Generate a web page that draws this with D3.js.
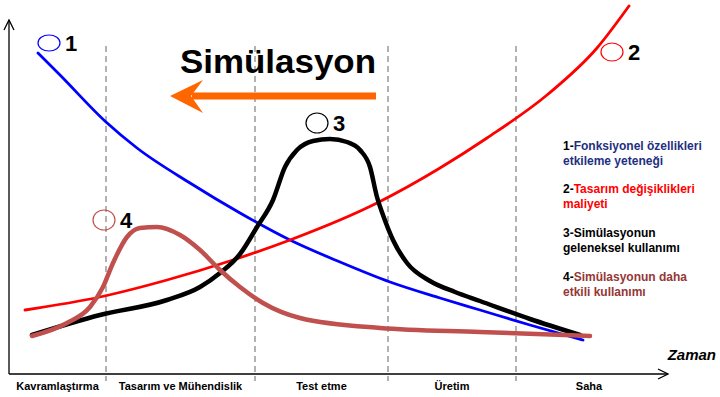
<!DOCTYPE html>
<html lang="tr">
<head>
    <meta charset="UTF-8">
    <title>Simülasyon</title>
    <script src="https://d3js.org/d3.v7.min.js"></script>
    <style>
        body { margin: 0; background: #fff; }
        text { font-family: "Liberation Sans", Arial, sans-serif; font-weight: bold; }
        .phase-line { stroke: #999; stroke-width: 1.5px; stroke-dasharray: 6, 4; }
        .axis-line { stroke: #000; stroke-width: 1.3px; fill: none; }
    </style>
</head>
<body>
<div id="chart"></div>
<script>
    // phases along the time axis (boundaries in time units)
    const phases = ["Kavramlaştırma", "Tasarım ve Mühendislik", "Test etme", "Üretim", "Saha"];
    const phaseBounds = [0, 97, 246, 379, 507, 653];

    // 1 - ability to influence functional properties
    const blueX = [29, 51, 97, 128, 181, 231, 281, 331, 381, 431, 471, 521, 574];
    const blueY = [322, 300, 253, 227, 192, 162, 135, 113, 93, 77, 65, 50, 35];
    // 2 - cost of design changes
    const redX = [16, 91, 158, 224, 281, 368, 431, 478, 538, 588, 620];
    const redY = [65, 78, 95, 115, 135, 172, 207, 237, 280, 327, 369];
    // 3 - traditional use of simulation
    const blackX = [23, 91, 158, 191, 211, 231, 248, 264, 276, 288, 304, 321, 338, 351, 361, 368, 374, 384, 398, 421, 446, 471, 521, 571];
    const blackY = [40, 60, 75, 88, 102, 121, 148, 175, 208, 225, 234, 236, 233, 225, 208, 178, 160, 135, 112, 94, 83, 74, 56, 40];
    // 4 - more effective use of simulation
    const brownX = [23, 58, 81, 94, 104, 118, 131, 148, 171, 191, 211, 231, 254, 291, 371, 471, 581];
    const brownY = [39, 52, 68, 88, 112, 138, 147, 148, 140, 125, 105, 88, 72, 57, 47, 43, 39];

    const markerLabels = ["1", "2", "3", "4"];
    const markerX = [40, 603, 308, 95];
    const markerY = [332, 323, 252, 155];

    const legendNums = ["1-", "2-", "3-", "4-"];
    const legendLines = [
        ["Fonksiyonel özellikleri", "etkileme yeteneği"],
        ["Tasarım değişiklikleri", "maliyeti"],
        ["Simülasyonun", "geleneksel kullanımı"],
        ["Simülasyonun daha", "etkili kullanımı"]
    ];

    const colors = ["#0000ff", "#ff0000", "#000000", "#c0504d"];
    const widths = [2.8, 2.8, 4.5, 4.5];
    const textColors = ["#1f3080", "#ff0000", "#000000", "#953735"];

    const W = 720, H = 397;
    const x0 = 9, yAxis = 374;

    const svg = d3.select("#chart").append("svg")
        .attr("width", W).attr("height", H);

    const x = d3.scaleLinear().domain([0, 660]).range([x0, x0 + 660]);
    const y = d3.scaleLinear().domain([0, 355]).range([yAxis + 1, 20]);

    // phase separators
    svg.selectAll(".phase-line")
        .data(phaseBounds.slice(1, -1))
        .enter().append("line")
        .attr("class", "phase-line")
        .attr("x1", d => x(d)).attr("x2", d => x(d))
        .attr("y1", 46).attr("y2", 381);

    // axes
    svg.append("line").attr("class", "axis-line")
        .attr("x1", x0).attr("x2", 668).attr("y1", yAxis).attr("y2", yAxis);
    svg.append("path").attr("class", "axis-line")
        .attr("d", `M658,${yAxis - 5}L668,${yAxis}L658,${yAxis + 5}`);
    svg.append("line").attr("class", "axis-line")
        .attr("x1", x0).attr("x2", x0).attr("y1", yAxis).attr("y2", 20);
    svg.append("path").attr("class", "axis-line")
        .attr("d", `M${x0 - 5},30L${x0},20L${x0 + 5},30`);

    // phase labels
    svg.selectAll(".phase-label")
        .data(phases)
        .enter().append("text")
        .attr("class", "phase-label")
        .attr("x", (d, i) => x((phaseBounds[i] + phaseBounds[i + 1]) / 2))
        .attr("y", 390)
        .attr("text-anchor", "middle")
        .style("font-size", "11px")
        .text(d => d);

    svg.append("text")
        .attr("x", 716).attr("y", 360)
        .attr("text-anchor", "end")
        .style("font-size", "15px")
        .style("font-style", "italic")
        .text("Zaman");

    // curves
    const series = [[blueX, blueY], [redX, redY], [blackX, blackY], [brownX, brownY]];
    const line = d3.line()
        .x(d => x(d[0]))
        .y(d => y(d[1]))
        .curve(d3.curveMonotoneX);

    svg.selectAll(".curve")
        .data(series)
        .enter().append("path")
        .attr("class", "curve")
        .attr("d", d => line(d[0].map((v, i) => [v, d[1][i]])))
        .style("fill", "none")
        .style("stroke", (d, i) => colors[i])
        .style("stroke-width", (d, i) => widths[i])
        .style("stroke-linecap", "round");

    // numbered markers
    const marks = svg.selectAll(".marker")
        .data(markerLabels)
        .enter().append("g")
        .attr("class", "marker")
        .attr("transform", (d, i) => `translate(${x(markerX[i])},${y(markerY[i])})`);
    marks.append("ellipse")
        .attr("rx", 11).attr("ry", (d, i) => i === 0 ? 8 : i === 1 ? 9 : 10)
        .style("fill", "none")
        .style("stroke", (d, i) => colors[i])
        .style("stroke-width", 1.2);
    marks.append("text")
        .attr("x", 16).attr("y", 8)
        .style("font-size", "22px")
        .text(d => d);

    // title and arrow
    svg.append("text")
        .attr("x", 180).attr("y", 73)
        .attr("textLength", 196)
        .attr("lengthAdjust", "spacingAndGlyphs")
        .style("font-size", "34px")
        .text("Simülasyon");

    svg.append("line")
        .attr("x1", 376).attr("x2", 192)
        .attr("y1", 96).attr("y2", 96)
        .style("stroke", "#ff6600")
        .style("stroke-width", 7);
    svg.append("path")
        .attr("d", "M170,96L203,80L191,96L203,113Z")
        .style("fill", "#ff6600");

    // legend
    const leg = svg.selectAll(".legend")
        .data(legendLines)
        .enter().append("g")
        .attr("class", "legend")
        .attr("transform", (d, i) => `translate(563,${[150, 193, 237, 281][i]})`);
    leg.append("text")
        .style("font-size", "12px")
        .each(function (d, i) {
            const t = d3.select(this);
            t.append("tspan").style("fill", "#000").text(legendNums[i]);
            t.append("tspan").style("fill", textColors[i]).text(d[0]);
        });
    leg.append("text")
        .attr("y", 15)
        .style("font-size", "12px")
        .style("fill", (d, i) => textColors[i])
        .text(d => d[1]);
</script>
</body>
</html>
